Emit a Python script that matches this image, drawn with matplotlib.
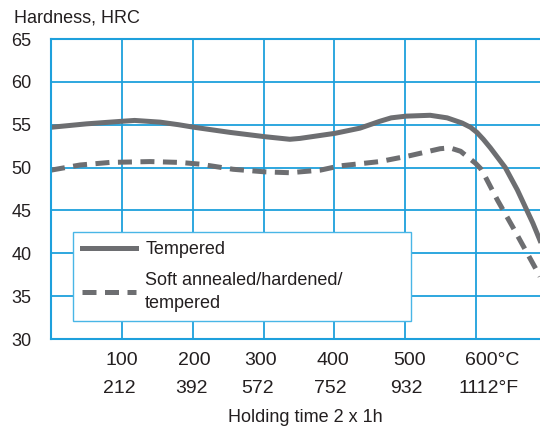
import numpy as np
import matplotlib
matplotlib.use("Agg")
import matplotlib.pyplot as plt

plt.rcParams['font.family'] = ['Liberation Sans', 'DejaVu Sans']

# readings (temperature in C, hardness in HRC)
temp_tempered = [0, 50, 100, 118, 154, 180, 202, 253, 302, 337, 351, 401, 436, 464, 480, 501, 535, 559, 580, 592, 601, 610, 620, 641, 658, 680, 690]
hrc_tempered = [54.7, 55.1, 55.4, 55.5, 55.3, 55.0, 54.7, 54.1, 53.6, 53.3, 53.4, 54.0, 54.6, 55.4, 55.8, 56.0, 56.1, 55.8, 55.2, 54.7, 54.1, 53.3, 52.3, 50.0, 47.4, 43.5, 41.5]

temp_soft = [0, 41, 83, 140, 182, 210, 257, 302, 337, 380, 408, 464, 507, 549, 563, 578, 587, 599, 606, 613, 630, 652, 672, 690]
hrc_soft = [49.7, 50.3, 50.6, 50.7, 50.6, 50.4, 49.8, 49.5, 49.4, 49.7, 50.2, 50.7, 51.4, 52.2, 52.3, 51.9, 51.3, 50.5, 49.9, 48.9, 46.2, 43.0, 40.0, 37.3]

tick_c = [100, 200, 300, 400, 500, 600]
labels_c = ["100", "200", "300", "400", "500", "600°C"]
labels_f = ["212", "392", "572", "752", "932", "1112°F"]
label_shift = [0, 2, -4, -2, 6, 22]   # label centres in the reference are not exactly on the grid

grid_blue = "#1ea0dc"
line_grey = "#6d6e71"
text_col = "#231f20"

fig = plt.figure(figsize=(5.4, 4.3), dpi=100)
ax = fig.add_axes([51/540, 91/430, 1 - 51/540, 300/430])

ax.plot(temp_tempered, hrc_tempered, color=line_grey, lw=3.6, solid_joinstyle='round', label="Tempered")
ax.plot(temp_soft, hrc_soft, color=line_grey, lw=3.6, dashes=(2.8, 1.7), dash_joinstyle='round', label="Soft annealed/hardened/\ntempered")

ax.set_xlim(0, 690)
ax.set_ylim(30, 65)
ax.set_yticks(np.arange(30, 66, 5))
ax.set_xticks(tick_c)
ax.set_xticklabels([])
ax.tick_params(length=0, labelsize=13, colors=text_col, pad=14)
ax.grid(True, color=grid_blue, lw=1.3)
for side in ['left', 'top', 'bottom']:
	ax.spines[side].set_color(grid_blue)
	ax.spines[side].set_linewidth(1.5)
ax.spines['right'].set_visible(False)

for ji in range(len(tick_c)):
	ax.text(tick_c[ji] + label_shift[ji], 27.5, labels_c[ji], ha='center', va='center', fontsize=14, color=text_col)
	ax.text(tick_c[ji] + label_shift[ji] - 4, 24.2, labels_f[ji], ha='center', va='center', fontsize=14, color=text_col)
ax.text(0.52, -0.263, "Holding time 2 x 1h", transform=ax.transAxes, ha='center', va='center', fontsize=13, color=text_col)
fig.text(14/540, 1 - 18/430, "Hardness, HRC", ha='left', va='center', fontsize=13, color=text_col)

leg = ax.legend(loc='upper left', bbox_to_anchor=(22/489, 107/300, 338/489, 0), mode='expand',
	fancybox=False, edgecolor="#49b6e6", framealpha=1, fontsize=13, handlelength=3.0,
	borderpad=0.5, labelspacing=0.75, handletextpad=0.5, borderaxespad=0)
leg.get_frame().set_linewidth(1.0)
for txt in leg.get_texts():
	txt.set_color(text_col)
	txt.set_linespacing(1.5)

fig.savefig("out.png", dpi=100)
